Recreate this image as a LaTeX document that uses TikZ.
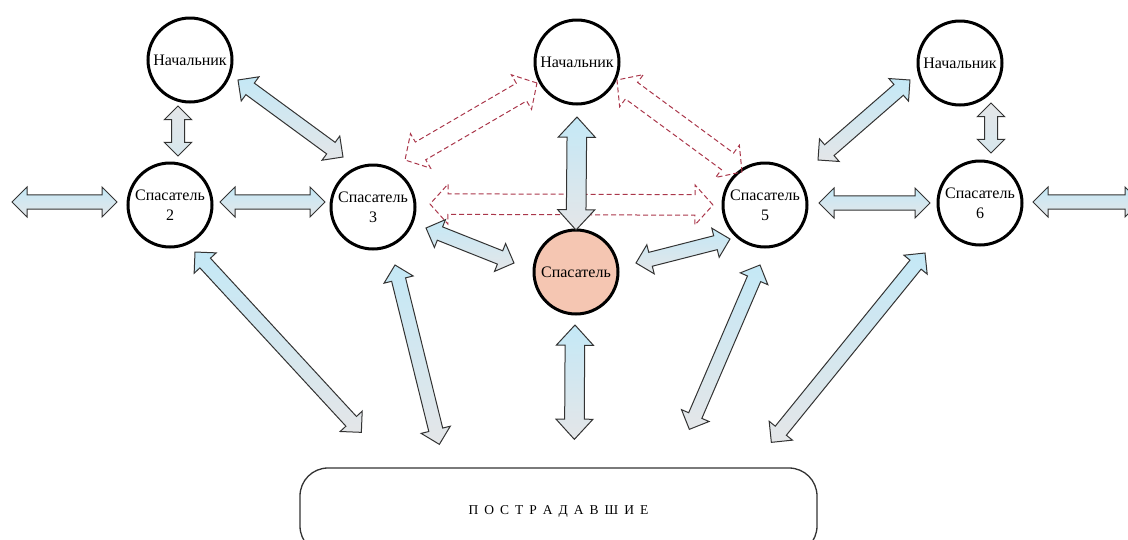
\documentclass[tikz,border=0pt]{standalone}
\usepackage{fontspec}
\setmainfont{Liberation Serif}
\usetikzlibrary{shapes.arrows,calc}
\definecolor{arrowblue}{RGB}{196,232,246}
\definecolor{arrowgray}{RGB}{228,230,232}
\definecolor{linkred}{RGB}{170,55,75}
\definecolor{rescuerpink}{RGB}{245,198,178}
\tikzset{
  person/.style={circle, draw=black, line width=3pt, fill=white, minimum size=84pt, inner sep=0pt, align=center, font=\fontsize{16}{20}\selectfont},
  fatarrow/.style={double arrow, draw=black!80, line width=1pt, top color=arrowblue, bottom color=arrowgray, inner sep=0pt, inner ysep=6pt, minimum width=30pt, double arrow tip angle=90},
  bigarrow/.style={fatarrow, inner ysep=7.5pt, minimum width=37pt, double arrow tip angle=85},
  thinarrow/.style={fatarrow, top color=arrowgray, bottom color=arrowgray!60!arrowblue, minimum width=27pt},
  dasharrow/.style={double arrow, draw=linkred, line width=1pt, dash pattern=on 5pt off 3pt, inner sep=0pt, inner ysep=7pt, minimum width=40pt, double arrow tip angle=96},
}
% block arrow between two points, laid along the line
\newcommand{\fatlink}[3][fatarrow]{%
  \path let \p1=#2, \p2=#3, \n1={atan2(\y2-\y1,\x2-\x1)}, \n2={veclen(\x2-\x1,\y2-\y1)} in
    node[#1, minimum height=\n2, rotate=\n1] at ($(\p1)!0.5!(\p2)$) {};
}
\begin{document}
\begin{tikzpicture}[x=1pt,y=-1pt]
  \useasboundingbox (0,0) rectangle (1128,539);
  % chiefs and rescuers
  \node[person] (nl) at (190,60) {Начальник};
  \node[person] (nm) at (577,62) {Начальник};
  \node[person] (nr) at (960,63) {Начальник};
  \node[person] (s2) at (170,205) {Спасатель\\2};
  \node[person] (s3) at (373,207) {Спасатель\\3};
  \node[person, fill=rescuerpink] (s4) at (576,272) {Спасатель};
  \node[person] (s5) at (765,205) {Спасатель\\5};
  \node[person] (s6) at (980,203) {Спасатель\\6};
  % victims
  \node[draw=black!80, line width=1.3pt, rounded corners=28pt, minimum width=517pt, minimum height=86pt,
        font=\fontsize{13.5}{16}\selectfont] (vic) at (558.5,511) {\spaceskip=6pt\relax П О С Т Р А Д А В Ш И Е};
  \coordinate (lstub) at (12,202);
  \coordinate (rstub) at (1140,202);
  % dashed links
  \foreach \A/\B in {{($(s3)+(57,-3)$)}/{($(s5)+(-52,0)$)},
                     {($(s3)+(32,-47)$)}/{($(nm)+(-40,21)$)},
                     {($(nm)+(40,18)$)}/{($(s5)+(-23,-33)$)}}
    {\fatlink[dasharrow]{\A}{\B}}
  % links between people
  \foreach \S/\A/\B in {fatarrow/{(lstub)}/{($(s2)+(-53,-3)$)},
                        fatarrow/{($(s2)+(50,-3)$)}/{($(s3)+(-48,-5)$)},
                        thinarrow/{($(nl)+(-12,46)$)}/{($(s2)+(8,-49)$)},
                        fatarrow/{($(nl)+(48,20)$)}/{($(s3)+(-30,-50)$)},
                        fatarrow/{($(s3)+(53,21)$)}/{($(s4)+(-62,-9)$)},
                        bigarrow/{($(nm)+(0,55)$)}/{($(s4)+(0,-42)$)},
                        fatarrow/{($(s4)+(60,-9)$)}/{($(s5)+(-35,34)$)},
                        fatarrow/{($(nr)+(-50,17)$)}/{($(s5)+(53,-45)$)},
                        thinarrow/{($(nr)+(31,40)$)}/{($(s6)+(11,-50)$)},
                        fatarrow/{($(s5)+(54,-2)$)}/{($(s6)+(-50,0)$)},
                        fatarrow/{($(s6)+(53,-1)$)}/{(rstub)}}
    {\fatlink[\S]{\A}{\B}}
  % links to the victims
  \foreach \S/\A/\B in {fatarrow/{($(s2)+(25,47)$)}/{($(vic.north west)+(62,-35)$)},
                        fatarrow/{($(s3)+(22,58)$)}/{($(vic.north west)+(140,-23)$)},
                        bigarrow/{($(s4)+(-1,53)$)}/{($(vic.north west)+(275,-28)$)},
                        fatarrow/{($(s5)+(-5,60)$)}/{($(vic.north west)+(390,-38)$)},
                        fatarrow/{($(s6)+(-55,50)$)}/{($(vic.north west)+(472,-25)$)}}
    {\fatlink[\S]{\A}{\B}}
\end{tikzpicture}
\end{document}
